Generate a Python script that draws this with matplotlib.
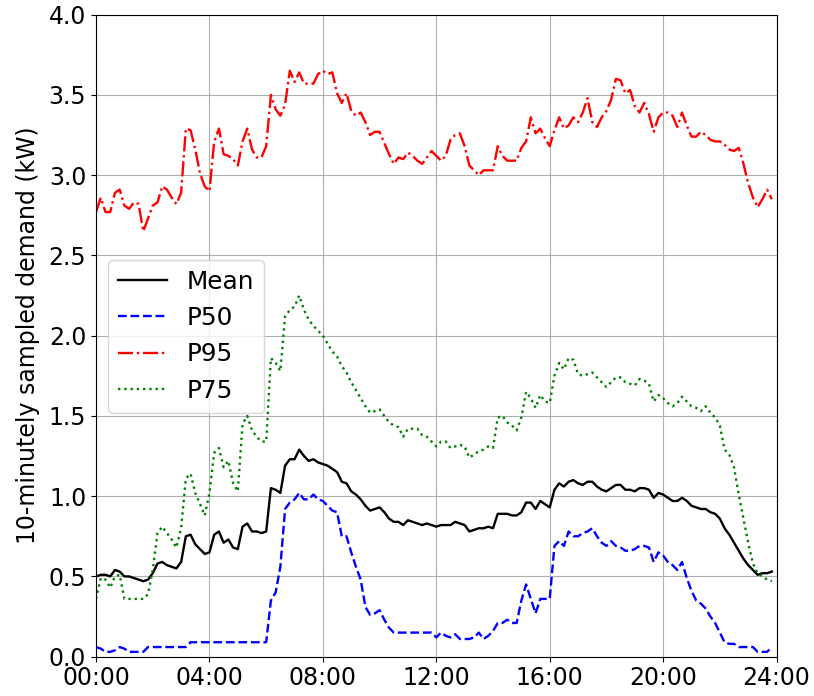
import numpy as np
import matplotlib
matplotlib.use("Agg")
import matplotlib.pyplot as plt
from matplotlib.ticker import FixedLocator

# 10-minute demand statistics over one day (kW), 144 samples from 00:00 to 23:50
mean_kw = [
    0.50, 0.51, 0.51, 0.50, 0.54, 0.53, 0.50, 0.50, 0.49, 0.48, 0.47, 0.48,
    0.52, 0.58, 0.59, 0.57, 0.56, 0.55, 0.59, 0.75, 0.76, 0.70, 0.67, 0.64,
    0.65, 0.76, 0.78, 0.71, 0.73, 0.68, 0.67, 0.81, 0.83, 0.78, 0.78, 0.77,
    0.78, 1.05, 1.04, 1.02, 1.19, 1.23, 1.23, 1.29, 1.25, 1.22, 1.23, 1.21,
    1.20, 1.19, 1.17, 1.15, 1.09, 1.08, 1.03, 1.01, 0.98, 0.94, 0.91, 0.92,
    0.93, 0.90, 0.86, 0.84, 0.84, 0.82, 0.85, 0.84, 0.83, 0.82, 0.83, 0.82,
    0.81, 0.82, 0.82, 0.82, 0.84, 0.83, 0.82, 0.78, 0.79, 0.80, 0.80, 0.81,
    0.80, 0.89, 0.89, 0.89, 0.88, 0.88, 0.90, 0.96, 0.96, 0.92, 0.97, 0.95,
    0.93, 1.04, 1.08, 1.06, 1.09, 1.10, 1.08, 1.07, 1.09, 1.09, 1.06, 1.04,
    1.03, 1.05, 1.07, 1.07, 1.04, 1.04, 1.03, 1.05, 1.05, 1.04, 0.99, 1.02,
    1.01, 0.99, 0.97, 0.97, 0.99, 0.97, 0.94, 0.93, 0.92, 0.92, 0.90, 0.89,
    0.86, 0.80, 0.76, 0.71, 0.66, 0.61, 0.57, 0.54, 0.51, 0.52, 0.52, 0.53,
]

p50_kw = [
    0.06, 0.05, 0.03, 0.03, 0.04, 0.06, 0.05, 0.03, 0.03, 0.03, 0.03, 0.06,
    0.06, 0.06, 0.06, 0.06, 0.06, 0.06, 0.06, 0.06, 0.09, 0.09, 0.09, 0.09,
    0.09, 0.09, 0.09, 0.09, 0.09, 0.09, 0.09, 0.09, 0.09, 0.09, 0.09, 0.09,
    0.09, 0.35, 0.40, 0.56, 0.92, 0.96, 0.98, 1.02, 0.98, 0.98, 1.01, 0.98,
    0.97, 0.94, 0.91, 0.90, 0.75, 0.75, 0.65, 0.56, 0.48, 0.31, 0.26, 0.27,
    0.29, 0.23, 0.18, 0.15, 0.15, 0.15, 0.15, 0.15, 0.15, 0.15, 0.15, 0.15,
    0.12, 0.15, 0.13, 0.12, 0.14, 0.11, 0.11, 0.11, 0.12, 0.15, 0.11, 0.13,
    0.16, 0.21, 0.21, 0.23, 0.21, 0.21, 0.35, 0.45, 0.36, 0.27, 0.36, 0.36,
    0.36, 0.69, 0.72, 0.69, 0.78, 0.75, 0.75, 0.77, 0.78, 0.80, 0.75, 0.71,
    0.69, 0.72, 0.69, 0.68, 0.66, 0.66, 0.67, 0.69, 0.69, 0.68, 0.59, 0.65,
    0.63, 0.59, 0.57, 0.54, 0.59, 0.49, 0.41, 0.35, 0.33, 0.30, 0.25, 0.21,
    0.15, 0.09, 0.08, 0.08, 0.06, 0.06, 0.06, 0.06, 0.03, 0.03, 0.03, 0.06,
]

p95_kw = [
    2.77, 2.86, 2.77, 2.77, 2.89, 2.91, 2.81, 2.79, 2.83, 2.82, 2.65, 2.73,
    2.81, 2.83, 2.93, 2.91, 2.86, 2.82, 2.89, 3.29, 3.28, 3.16, 3.01, 2.93,
    2.90, 3.21, 3.29, 3.13, 3.12, 3.10, 3.06, 3.21, 3.29, 3.16, 3.11, 3.11,
    3.18, 3.50, 3.41, 3.37, 3.44, 3.65, 3.58, 3.64, 3.57, 3.57, 3.57, 3.63,
    3.65, 3.63, 3.64, 3.51, 3.45, 3.51, 3.40, 3.37, 3.39, 3.33, 3.25, 3.27,
    3.27, 3.20, 3.13, 3.07, 3.11, 3.10, 3.14, 3.12, 3.09, 3.07, 3.11, 3.15,
    3.12, 3.09, 3.12, 3.22, 3.25, 3.26, 3.18, 3.06, 3.03, 3.00, 3.03, 3.03,
    3.03, 3.18, 3.12, 3.09, 3.09, 3.09, 3.17, 3.21, 3.36, 3.26, 3.29, 3.23,
    3.18, 3.28, 3.36, 3.29, 3.31, 3.36, 3.33, 3.39, 3.48, 3.33, 3.30, 3.36,
    3.40, 3.47, 3.60, 3.59, 3.51, 3.53, 3.43, 3.39, 3.45, 3.38, 3.27, 3.36,
    3.39, 3.39, 3.37, 3.30, 3.39, 3.31, 3.24, 3.24, 3.27, 3.25, 3.22, 3.21,
    3.21, 3.19, 3.16, 3.15, 3.17, 3.07, 2.95, 2.86, 2.80, 2.85, 2.91, 2.85,
]

p75_kw = [
    0.36, 0.49, 0.48, 0.43, 0.50, 0.51, 0.36, 0.36, 0.36, 0.36, 0.36, 0.39,
    0.54, 0.77, 0.81, 0.77, 0.73, 0.68, 0.80, 1.11, 1.14, 1.02, 0.95, 0.88,
    1.02, 1.27, 1.30, 1.18, 1.22, 1.08, 1.03, 1.45, 1.50, 1.41, 1.37, 1.34,
    1.34, 1.86, 1.83, 1.78, 2.12, 2.16, 2.18, 2.25, 2.16, 2.10, 2.06, 2.03,
    2.00, 1.95, 1.90, 1.87, 1.81, 1.77, 1.71, 1.66, 1.61, 1.56, 1.52, 1.53,
    1.54, 1.50, 1.46, 1.44, 1.43, 1.37, 1.42, 1.42, 1.42, 1.38, 1.37, 1.34,
    1.31, 1.34, 1.34, 1.30, 1.31, 1.32, 1.31, 1.24, 1.26, 1.28, 1.29, 1.31,
    1.30, 1.49, 1.50, 1.46, 1.44, 1.41, 1.49, 1.65, 1.61, 1.55, 1.63, 1.59,
    1.58, 1.75, 1.83, 1.79, 1.86, 1.85, 1.76, 1.75, 1.76, 1.77, 1.74, 1.71,
    1.68, 1.71, 1.74, 1.74, 1.71, 1.70, 1.69, 1.73, 1.72, 1.70, 1.59, 1.63,
    1.61, 1.58, 1.56, 1.58, 1.62, 1.59, 1.56, 1.55, 1.53, 1.56, 1.52, 1.49,
    1.44, 1.29, 1.26, 1.18, 1.01, 0.86, 0.71, 0.58, 0.52, 0.50, 0.48, 0.47,
]

tick_hours = [0, 4, 8, 12, 16, 20, 24]
tick_labels = ["00:00", "04:00", "08:00", "12:00", "16:00", "20:00", "24:00"]
y_ticks = [0.0, 0.5, 1.0, 1.5, 2.0, 2.5, 3.0, 3.5, 4.0]

hours = np.arange(len(mean_kw)) / 6.0

FS = 17
plt.rcParams["font.family"] = ["DejaVu Sans"]

fig = plt.figure(figsize=(8.14, 6.96), dpi=100)
ax = fig.add_axes([0.118, 0.0565, 0.836, 0.9225])

ax.plot(hours, mean_kw, color="k", linestyle="-", lw=1.7, label="Mean")
ax.plot(hours, p50_kw, color="b", linestyle="--", lw=1.7, label="P50")
ax.plot(hours, p95_kw, color="r", linestyle="-.", lw=1.7, label="P95")
ax.plot(hours, p75_kw, color="g", linestyle=":", lw=1.7, label="P75")

ax.set_xlim(0, 24)
ax.set_ylim(0, 4.0)
ax.xaxis.set_major_locator(FixedLocator(tick_hours))
ax.set_xticklabels(tick_labels)
ax.set_yticks(y_ticks)
ax.set_yticklabels([f"{v:.1f}" for v in y_ticks])
ax.tick_params(labelsize=FS)
ax.grid(True, color="#b0b0b0", lw=0.8)
ax.set_ylabel("10-minutely sampled demand (kW)", fontsize=FS, labelpad=6)

ax.legend(loc="lower left", bbox_to_anchor=(0.017, 0.38), borderaxespad=0,
          fontsize=17.8)

fig.savefig("out.png", dpi=100)
